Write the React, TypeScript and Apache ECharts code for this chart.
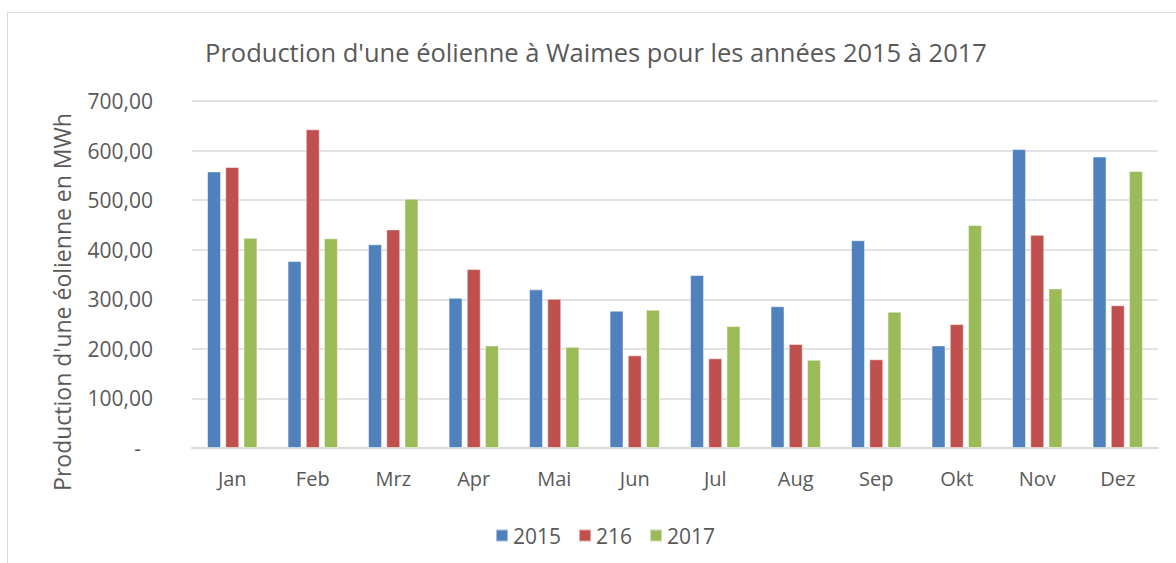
import React, { useEffect, useRef } from "react";
import * as echarts from "echarts";

const months = ["Jan", "Feb", "Mrz", "Apr", "Mai", "Jun", "Jul", "Aug", "Sep", "Okt", "Nov", "Dez"];
const seriesNames = ["2015", "216", "2017"];
const values2015 = [558, 377, 411, 303, 320, 277, 349, 286, 419, 207, 603, 588];
const values216 = [567, 643, 441, 361, 301, 187, 181, 210, 179, 250, 430, 288];
const values2017 = [424, 423, 503, 207, 204, 279, 246, 178, 275, 450, 322, 559];
const colors = ["#4F81BD", "#C0504D", "#9BBB59"];

const FONT = "'Open Sans', sans-serif";
const TXT = "#595959";

export default function App() {
  const ref = useRef<HTMLDivElement>(null);
  useEffect(() => {
    if (!ref.current) return;
    const chart = echarts.init(ref.current, undefined, { renderer: "svg" });
    const data = [values2015, values216, values2017];
    chart.setOption({
      animation: false,
      backgroundColor: "#ffffff",
      textStyle: { fontFamily: FONT },
      title: {
        text: "Production d'une éolienne à Waimes pour les années 2015 à 2017",
        left: 591,
        textAlign: "center",
        top: 34,
        textStyle: { fontFamily: FONT, fontSize: 25.5, fontWeight: "normal", color: TXT },
      },
      graphic: [
        {
          type: "rect",
          shape: { x: 7.5, y: 12.5, width: 1300, height: 700 },
          style: { fill: "none", stroke: "#d9d9d9", lineWidth: 1 },
          silent: true,
        },
        {
          type: "text",
          x: 62,
          y: 302,
          rotation: Math.PI / 2,
          style: {
            text: "Production d'une éolienne en MWh",
            fontFamily: FONT,
            fontSize: 23,
            fill: TXT,
            align: "center",
            verticalAlign: "middle",
          },
        },
      ],
      legend: {
        data: seriesNames,
        left: 490,
        top: 520,
        textStyle: { fontFamily: FONT, fontSize: 21, color: TXT },
        itemWidth: 12,
        itemHeight: 12,
        itemGap: 17,
        icon: "rect",
      },
      grid: { left: 192, right: 18, top: 101, bottom: 115 },
      xAxis: {
        type: "category",
        data: months,
        axisLine: { lineStyle: { color: "#d9d9d9", width: 2 } },
        axisTick: { show: false },
        axisLabel: { fontFamily: FONT, fontSize: 20, color: TXT, margin: 20 },
      },
      yAxis: {
        type: "value",
        min: 0,
        max: 700,
        interval: 100,
        axisLine: { show: false },
        axisTick: { show: false },
        splitLine: { lineStyle: { color: "#d9d9d9", width: 1.5 } },
        axisLabel: {
          fontFamily: FONT,
          fontSize: 21,
          color: TXT,
          margin: 39,
          formatter: (v: number) => (v === 0 ? "{z|-}" : v.toFixed(2).replace(".", ",")),
          rich: { z: { fontFamily: FONT, fontSize: 21, color: TXT, padding: [0, 12, 0, 0] } },
        },
      },
      series: seriesNames.map((name, i) => ({
        name,
        type: "bar",
        data: data[i],
        barWidth: 14,
        barGap: "30%",
        itemStyle: { color: colors[i], borderColor: "rgba(255,255,255,0.5)", borderWidth: 1 },
      })),
    });
    return () => chart.dispose();
  }, []);
  return <div ref={ref} style={{ position: "absolute", left: 0, top: 0, width: 1176, height: 563 }} />;
}
